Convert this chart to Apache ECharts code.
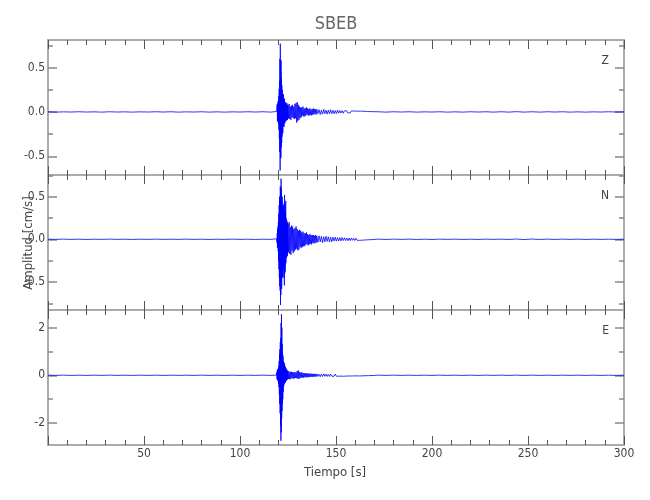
<!DOCTYPE html>
<html>
<head>
<meta charset="utf-8">
<script src="https://cdn.jsdelivr.net/npm/echarts@6/dist/echarts.min.js"></script>
<style>html,body{margin:0;padding:0;background:#fff}#c{width:650px;height:500px}</style>
</head>
<body>
<div id="c"></div>
<script>
// Sampling segments (start time, step, count) in seconds
const segStart = [0, 119, 125, 140, 172];
const segStep  = [4, 0.1, 0.3, 0.6, 4];
const segCount = [30, 60, 50, 50, 33];

// Component names and axis ticks
const components = ['Z', 'N', 'E'];
const xTicks = [0, 50, 100, 150, 200, 250, 300];
const zMajor = [-0.5, 0, 0.5], zMinor = [-0.25, 0.25, 0.75];
const nMajor = [-0.5, 0, 0.5], nMinor = [-0.75, -0.25, 0.25, 0.75];
const eMajor = [-2, 0, 2],     eMinor = [-1, 1];
const zRange = [-0.711, 0.811];
const nRange = [-0.828, 0.753];
const eRange = [-2.929, 2.744];

// Z component (cm/s)
const zPre = [0.001,-0.002,0.001,-0.001,0.002,-0.001,0.001,-0.002,0.002,-0.001,
  0.001,-0.002,0.001,-0.001,0.002,-0.001,0.002,-0.002,0.001,-0.001,
  0.002,-0.002,0.001,-0.002,0.001,-0.001,0.002,-0.001,0.002,-0.002];
const zOnset = [0.005,-0.006,0.008,-0.01,0.09,-0.11,0.07,-0.09,0.12,-0.08,
  0.1,-0.14,0.18,-0.2,0.26,-0.3,0.35,-0.45,0.6,-0.66,
  0.77,-0.5,0.45,-0.52,0.58,-0.4,0.38,-0.35,0.3,-0.28,
  0.25,-0.22,0.2,-0.24,0.18,-0.16,0.2,-0.15,0.14,-0.17,
  0.12,-0.13,0.15,-0.11,0.1,-0.12,0.09,-0.1,0.11,-0.08,
  0.09,-0.1,0.08,-0.09,0.1,-0.07,0.08,-0.09,0.07,-0.08];
const zCoda = [0.08,-0.07,0.09,-0.08,0.06,-0.09,0.07,-0.06,0.08,-0.07,
  0.06,-0.08,0.09,-0.07,0.1,-0.12,0.11,-0.1,0.08,-0.09,
  0.06,-0.07,0.05,-0.06,0.05,-0.04,0.06,-0.05,0.04,-0.05,
  0.04,-0.04,0.05,-0.03,0.04,-0.04,0.03,-0.04,0.04,-0.03,
  0.03,-0.04,0.03,-0.03,0.04,-0.03,0.03,-0.02,0.03,-0.03];
const zLate = [0.03,-0.02,0.025,-0.03,0.02,-0.025,0.03,-0.02,0.02,-0.025,
  0.02,-0.02,0.025,-0.02,0.018,-0.02,0.015,-0.018,0.02,-0.015,
  0.015,-0.012,0.014,-0.015,0.012,-0.01,0.013,-0.012,0.01,-0.011,
  0.012,-0.01,0.009,-0.011,0.01,-0.009,0.008,-0.01,0.009,-0.008,
  0.008,-0.006,0.006,-0.007,0.005,-0.005,0.004,-0.004,0.003,-0.003];
const zTail = [0.002,-0.002,0.002,-0.001,0.002,-0.002,0.001,-0.001,0.002,-0.002,
  0.001,-0.002,0.002,-0.001,0.002,-0.002,0.002,-0.002,0.003,-0.002,
  0.002,-0.002,0.002,-0.001,0.002,-0.002,0.001,-0.002,0.001,-0.001,
  0.002,-0.001,0.001];

// N component (cm/s)
const nPre = [0.001,-0.001,0.002,-0.001,0.001,-0.002,0.001,-0.001,0.002,-0.001,
  0.001,-0.002,0.001,-0.001,0.002,-0.001,0.001,-0.001,0.002,-0.001,
  0.001,-0.002,0.001,-0.001,0.002,-0.001,0.001,-0.002,0.001,-0.001];
const nOnset = [0.006,-0.005,0.008,-0.04,0.07,-0.1,0.12,-0.09,0.15,-0.14,
  0.2,-0.25,0.3,-0.35,0.4,-0.45,0.5,-0.55,0.45,-0.6,
  0.62,-0.77,0.55,-0.65,0.71,-0.5,0.6,-0.58,0.45,-0.4,
  0.5,-0.45,0.38,-0.42,0.35,-0.3,0.4,-0.35,0.3,-0.45,
  0.42,-0.54,0.52,-0.4,0.35,-0.38,0.3,-0.3,0.45,-0.28,
  0.25,-0.22,0.2,-0.18,0.22,-0.2,0.17,-0.19,0.2,-0.16];
const nCoda = [0.18,-0.15,0.2,-0.17,0.14,-0.18,0.16,-0.13,0.15,-0.16,
  0.12,-0.14,0.13,-0.12,0.15,-0.11,0.12,-0.13,0.1,-0.12,
  0.11,-0.09,0.1,-0.1,0.08,-0.09,0.09,-0.08,0.07,-0.08,
  0.07,-0.06,0.08,-0.06,0.06,-0.07,0.05,-0.06,0.06,-0.05,
  0.05,-0.06,0.05,-0.04,0.05,-0.05,0.04,-0.04,0.05,-0.04];
const nLate = [0.04,-0.035,0.04,-0.03,0.035,-0.04,0.03,-0.03,0.035,-0.025,
  0.03,-0.03,0.025,-0.03,0.025,-0.02,0.025,-0.022,0.02,-0.02,
  0.02,-0.018,0.02,-0.015,0.018,-0.016,0.015,-0.017,0.014,-0.015,
  0.015,-0.012,0.013,-0.014,0.012,-0.012,0.011,-0.012,0.01,-0.011,
  0.009,-0.008,0.007,-0.007,0.006,-0.005,0.005,-0.004,0.003,-0.003];
const nTail = [0.002,-0.002,0.002,-0.001,0.002,-0.002,0.001,-0.002,0.002,-0.001,
  0.002,-0.002,0.001,-0.002,0.002,-0.001,0.002,-0.002,0.003,-0.003,
  0.003,-0.002,0.002,-0.002,0.002,-0.001,0.002,-0.002,0.001,-0.001,
  0.001,-0.001,0.001];

// E component (cm/s)
const ePre = [0.005,-0.004,0.006,-0.005,0.004,-0.005,0.005,-0.004,0.006,-0.005,
  0.004,-0.005,0.005,-0.004,0.005,-0.006,0.005,-0.004,0.004,-0.005,
  0.006,-0.005,0.004,-0.005,0.005,-0.004,0.005,-0.004,0.006,-0.005];
const eOnset = [0.01,-0.05,0.12,-0.15,0.2,-0.18,0.25,-0.22,0.18,-0.25,
  0.3,-0.35,0.4,-0.5,0.6,-0.8,0.9,-1.2,1.1,-1.6,
  1.4,-2.1,1.57,-2.75,2.2,-2.4,2.57,-1.8,2.0,-1.5,
  1.3,-1.2,0.9,-1.0,0.8,-0.7,0.6,-0.5,0.55,-0.4,
  0.45,-0.35,0.5,-0.3,0.4,-0.32,0.35,-0.28,0.3,-0.25,
  0.28,-0.22,0.25,-0.2,0.22,-0.18,0.2,-0.17,0.18,-0.15];
const eCoda = [0.18,-0.15,0.16,-0.17,0.14,-0.15,0.15,-0.12,0.13,-0.14,
  0.12,-0.13,0.14,-0.11,0.12,-0.12,0.18,-0.14,0.2,-0.15,
  0.13,-0.12,0.11,-0.1,0.12,-0.09,0.1,-0.1,0.09,-0.08,
  0.09,-0.08,0.08,-0.09,0.07,-0.08,0.08,-0.07,0.07,-0.06,
  0.07,-0.06,0.06,-0.07,0.06,-0.05,0.06,-0.06,0.05,-0.05];
const eLate = [0.06,-0.05,0.05,-0.06,0.05,-0.05,0.06,-0.04,0.05,-0.05,
  0.04,-0.05,0.05,-0.04,0.04,-0.04,0.05,-0.04,0.04,-0.035,
  0.04,-0.035,0.035,-0.04,0.03,-0.035,0.035,-0.03,0.03,-0.03,
  0.03,-0.028,0.03,-0.025,0.028,-0.025,0.025,-0.026,0.022,-0.025,
  0.02,-0.018,0.018,-0.016,0.015,-0.014,0.012,-0.01,0.009,-0.008];
const eTail = [0.006,-0.005,0.006,-0.005,0.005,-0.006,0.005,-0.005,0.006,-0.005,
  0.005,-0.006,0.005,-0.005,0.006,-0.005,0.006,-0.006,0.007,-0.006,
  0.006,-0.005,0.005,-0.005,0.005,-0.004,0.005,-0.005,0.004,-0.004,
  0.004,-0.004,0.004];

// ---- build ----
const times = [];
for (let s = 0; s < segStart.length; s++) {
  for (let k = 0; k < segCount[s]; k++) times.push(+(segStart[s] + k * segStep[s]).toFixed(2));
}
const compValues = [
  zPre.concat(zOnset, zCoda, zLate, zTail),
  nPre.concat(nOnset, nCoda, nLate, nTail),
  ePre.concat(eOnset, eCoda, eLate, eTail)
];
const ranges = [zRange, nRange, eRange];
const majors = [zMajor, nMajor, eMajor];
const minors = [zMinor, nMinor, eMinor];
const fmts = [v => v.toFixed(1), v => v.toFixed(1), v => String(v)];

const FONT = "'Liberation Sans Narrow','DejaVu Sans Condensed','Liberation Sans',sans-serif";
const AXIS_COLOR = '#aaaaaa';
const TICK_COLOR = '#555555';
const gridTops = [40, 175, 310];

const grids = [], xAxes = [], yAxes = [], series = [];
for (let i = 0; i < 3; i++) {
  grids.push({ left: 48, right: 26, top: gridTops[i], height: 135, containLabel: false });
  ['bottom', 'top'].forEach(pos => {
    xAxes.push({
      gridIndex: i, type: 'value', min: 0, max: 300, interval: 50, position: pos,
      axisLine: { show: true, onZero: false, lineStyle: { color: AXIS_COLOR, width: 2 } },
      axisTick: { show: true, inside: true, length: 9, lineStyle: { color: TICK_COLOR, width: 1 } },
      minorTick: { show: true, splitNumber: 5, length: 5, lineStyle: { color: TICK_COLOR, width: 1 } },
      axisLabel: {
        show: (i === 2 && pos === 'bottom'), margin: 3, color: '#444', fontSize: 12, fontFamily: FONT,
        formatter: v => (v === 0 ? '' : String(v))
      },
      splitLine: { show: false }, minorSplitLine: { show: false }
    });
  });
  ['left', 'right'].forEach(pos => {
    yAxes.push({
      gridIndex: i, type: 'value', min: ranges[i][0], max: ranges[i][1], position: pos,
      axisLine: { show: true, onZero: false, lineStyle: { color: AXIS_COLOR, width: 2 } },
      axisTick: { show: true, inside: true, length: 9, customValues: majors[i], lineStyle: { color: '#888', width: 1.5 } },
      axisLabel: {
        show: pos === 'left', customValues: majors[i], formatter: fmts[i], margin: 3,
        color: '#444', fontSize: 12, fontFamily: FONT
      },
      splitLine: { show: false }
    });
    yAxes.push({
      gridIndex: i, type: 'value', min: ranges[i][0], max: ranges[i][1], position: pos,
      axisLine: { show: false, onZero: false },
      axisTick: { show: true, inside: true, length: 5, customValues: minors[i], lineStyle: { color: '#888', width: 1.5 } },
      axisLabel: { show: false },
      splitLine: { show: false }
    });
  });
  series.push({
    type: 'line', xAxisIndex: 2 * i, yAxisIndex: 4 * i,
    data: times.map((t, k) => [t, compValues[i][k]]),
    showSymbol: false, symbol: 'none', sampling: null, smooth: false,
    lineStyle: { color: '#0000ff', width: 0.8 }, animation: false, z: 1
  });
}

const graphics = [
  { type: 'text', x: 336, y: 24, style: { text: 'SBEB', fill: '#666', font: "18px " + FONT, textAlign: 'center', textVerticalAlign: 'middle' } },
  { type: 'text', x: 335, y: 473, style: { text: 'Tiempo [s]', fill: '#444', font: "13px " + FONT, textAlign: 'center', textVerticalAlign: 'middle' } },
  { type: 'text', x: 29, y: 243, rotation: Math.PI / 2, style: { text: 'Amplitud [cm/s]', fill: '#444', font: "13px " + FONT, textAlign: 'center', textVerticalAlign: 'middle' } }
];
components.forEach((c, i) => {
  graphics.push({ type: 'text', x: 609, y: gridTops[i] + 21, style: { text: c, fill: '#444', font: "12px " + FONT, textAlign: 'right', textVerticalAlign: 'middle' } });
});

const chart = echarts.init(document.getElementById('c'), null, { renderer: 'canvas' });
chart.setOption({
  animation: false,
  backgroundColor: '#ffffff',
  grid: grids, xAxis: xAxes, yAxis: yAxes, series: series,
  graphic: graphics
});
</script>
</body>
</html>
